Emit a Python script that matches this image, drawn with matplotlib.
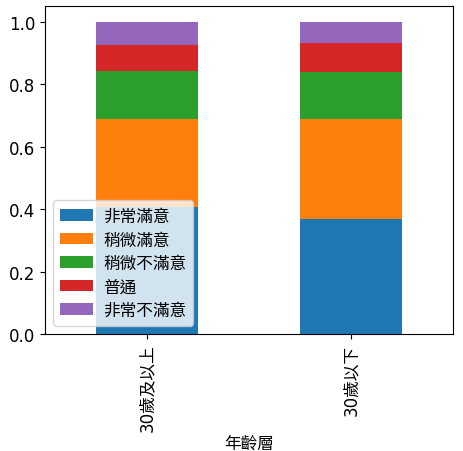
import matplotlib
matplotlib.use("Agg")
import matplotlib.pyplot as plt
import numpy as np

plt.rcParams['font.family'] = ['DejaVu Sans', 'Noto Sans CJK TC']
plt.rcParams['font.size'] = 12

categories = ['30歲及以上', '30歲以下']
series_names = ['非常滿意', '稍微滿意', '稍微不滿意', '普通', '非常不滿意']
very_satisfied = [0.406, 0.369]
slightly_satisfied = [0.284, 0.319]
slightly_dissatisfied = [0.154, 0.152]
neutral = [0.081, 0.093]
very_dissatisfied = [0.075, 0.067]
series = [very_satisfied, slightly_satisfied, slightly_dissatisfied, neutral, very_dissatisfied]
colors = ['#1f77b4', '#ff7f0e', '#2ca02c', '#d62728', '#9467bd']

fig = plt.figure(figsize=(4.64, 4.52), dpi=100)
ax = fig.add_axes([0.097, 0.259, 0.879, 0.725])
x = np.arange(len(categories))
bottom = np.zeros(len(categories))
for name, vals, c in zip(series_names, series, colors):
    ax.bar(x, vals, width=0.5, bottom=bottom, color=c, label=name)
    bottom += np.array(vals)
ax.set_xlim(-0.5, 1.5)
ax.set_xticks(x)
ax.set_xticklabels(categories, rotation=90)
ax.set_xlabel('年齡層', labelpad=2)
ax.legend(loc='lower left', labelspacing=0.33, handletextpad=0.6)
fig.savefig('out.png', dpi=100)
